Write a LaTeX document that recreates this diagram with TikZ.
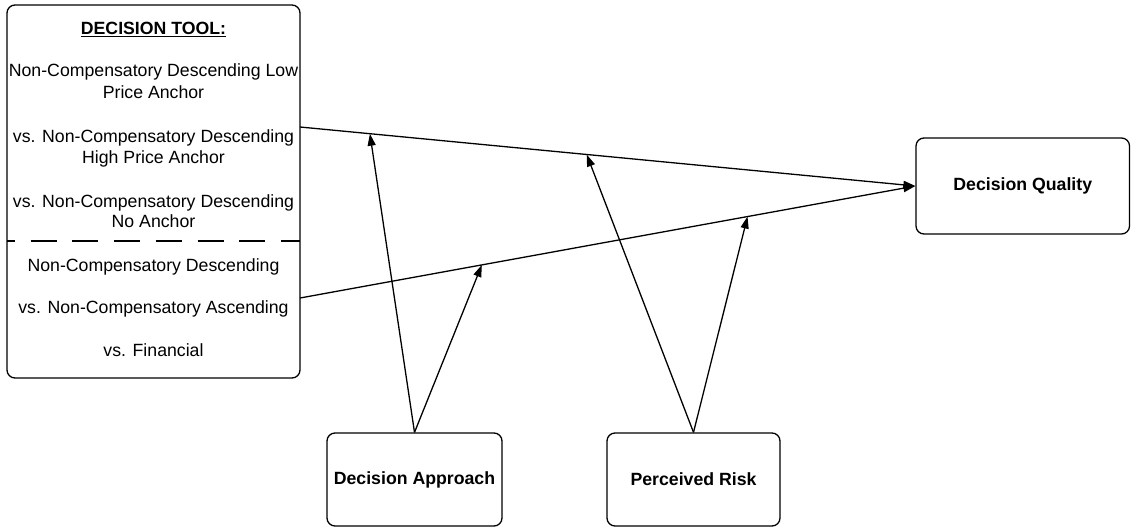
\documentclass[tikz,border=0pt]{standalone}
\usepackage{fontspec}
\setmainfont{Liberation Sans}
\usetikzlibrary{arrows.meta}
\begin{document}
\begin{tikzpicture}[x=1pt,y=-1pt,
  box/.style={draw, line width=1.3pt, rounded corners=8pt, inner sep=0pt, font=\fontsize{17.7}{21}\selectfont\bfseries},
  txt/.style={font=\fontsize{17.7}{21}\selectfont, inner sep=0pt, anchor=base},
  conn/.style={line width=1.3pt, -{Triangle[length=12pt,width=8pt]}}]
\useasboundingbox (0,0) rectangle (1131,527);
% boxes
\node[box, minimum width=293pt, minimum height=373pt] (tool) at (153.5,191.5) {};
\node[box, minimum width=213.5pt, minimum height=96pt] (dq) at (1022.75,186) {Decision Quality};
\node[box, minimum width=175pt, minimum height=93pt] (da) at (414.5,479.5) {Decision Approach};
\node[box, minimum width=173pt, minimum height=93pt] (pr) at (693.5,479.5) {Perceived Risk};
% texts in tool box
\node[txt, font=\fontsize{17.7}{21}\selectfont\bfseries] (t0) at (153.5,35) {\underline{DECISION TOOL:}};
\node[txt] (t1) at (153.5,77) {Non-Compensatory Descending Low};
\node[txt] (t2) at (153.5,98) {Price Anchor};
\node[txt] (t3) at (153.5,142) {vs. Non-Compensatory Descending};
\node[txt] (t4) at (153.5,163) {High Price Anchor};
\node[txt] (t5) at (153.5,207) {vs. Non-Compensatory Descending};
\node[txt] (t6) at (153.5,227) {No Anchor};
\node[txt] (t7) at (153.5,271) {Non-Compensatory Descending};
\node[txt] (t8) at (153.5,313) {vs. Non-Compensatory Ascending};
\node[txt] (t9) at (153.5,356) {vs. Financial};
% dashed divider
\coordinate (dl) at (7,241);
\coordinate (dr) at (300,241);
\draw[line width=1.3pt, dash pattern=on 26pt off 15.7pt, dash phase=18pt] (dl) -- (dr);
% main connectors
\coordinate (s1) at (300,127);
\coordinate (s2) at (300,298);
\draw[conn] (s1) -- (dq.west) coordinate[pos=0.1136] (m1) coordinate[pos=0.4659] (m3);
\draw[conn] (s2) -- (dq.west) coordinate[pos=0.2955] (m2) coordinate[pos=0.7273] (m4);
% moderator connectors
\draw[conn] (da.north) -- (m1);
\draw[conn] (da.north) -- (m2);
\draw[conn] (pr.north) -- (m3);
\draw[conn] (pr.north) -- (m4);
\end{tikzpicture}
\end{document}
